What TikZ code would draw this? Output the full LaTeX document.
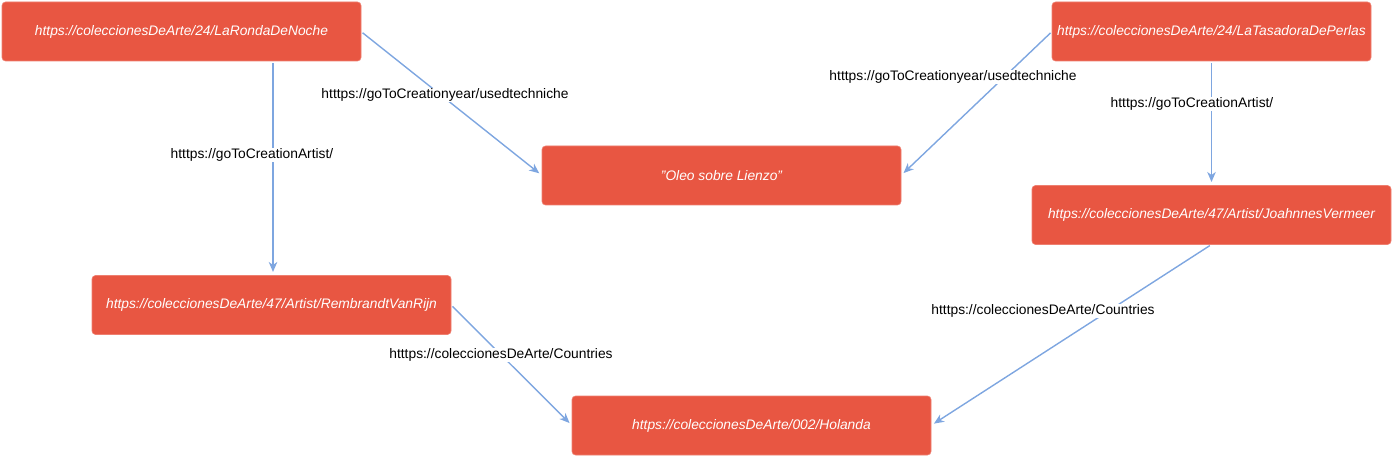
\documentclass[tikz,border=0pt]{standalone}
\usepackage{fontspec}
\setmainfont{Liberation Sans}
\usetikzlibrary{arrows.meta}
\definecolor{boxred}{HTML}{E85642}
\definecolor{boxedge}{HTML}{EE7F70}
\definecolor{linkblue}{HTML}{7EA6E0}
\tikzset{
  resbox/.style={rectangle, rounded corners=3.5pt, fill=boxred, draw=boxedge, line width=0.6pt,
    minimum height=59pt, inner sep=0pt, outer sep=0pt, text=white,
    font=\fontsize{13.8}{16}\selectfont\itshape},
  link/.style={draw=linkblue, line width=1.4pt,
    -{Stealth[length=10pt,width=8.5pt,inset=3pt]}, shorten <=2pt, shorten >=3.5pt},
  linklabel/.style={fill=white, inner sep=1pt, text=black, font=\fontsize{13.8}{16}\selectfont}
}
\begin{document}
\begin{tikzpicture}[x=1pt,y=-1pt]
\useasboundingbox (0,0) rectangle (1393,457);
% nodes
\node[resbox, minimum width=359pt] (A) at (181.5,31.5) {https://coleccionesDeArte/24/LaRondaDeNoche};
\node[resbox, minimum width=319pt] (B) at (1211.5,31.5) {https://coleccionesDeArte/24/LaTasadoraDePerlas};
\node[resbox, minimum width=359pt] (C) at (721.5,175.5) {"Oleo sobre Lienzo"};
\node[resbox, minimum width=359pt] (D) at (1211.5,215) {https://coleccionesDeArte/47/Artist/JoahnnesVermeer};
\node[resbox, minimum width=359pt] (E) at (271.5,305) {https://coleccionesDeArte/47/Artist/RembrandtVanRijn};
\node[resbox, minimum width=359pt] (F) at (751.5,425.5) {https://coleccionesDeArte/002/Holanda};
% connectors
\draw[link] (A.east) -- (C.west);
\draw[link] (B.west) -- (C.east);
\draw[link] (B.south) -- (D.north);
\draw[link] ([xshift=1.5pt]A.south -| E.north) -- ([xshift=1.5pt]E.north);
\draw[link] (E.east) -- (F.west);
\draw[link] (D.south) -- (F.east);
% connector labels
\node[linklabel] (lAC) at (445,95) {htttps://goToCreationyear/usedtechniche};
\node[linklabel] (lBC) at (953,77) {htttps://goToCreationyear/usedtechniche};
\node[linklabel] (lBD) at (1192,104) {htttps://goToCreationArtist/};
\node[linklabel] (lAE) at (252,155) {htttps://goToCreationArtist/};
\node[linklabel] (lEF) at (501,355) {htttps://coleccionesDeArte/Countries};
\node[linklabel] (lDF) at (1043,311) {htttps://coleccionesDeArte/Countries};
\end{tikzpicture}
\end{document}
